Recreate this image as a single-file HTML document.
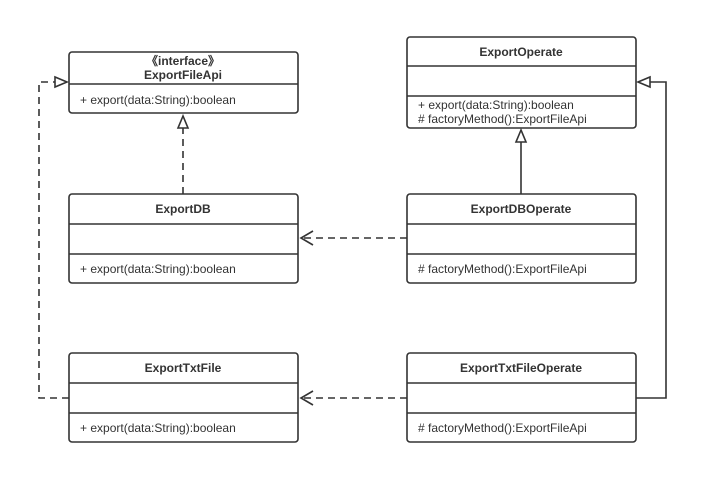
<!DOCTYPE html>
<html><head><style>
body{margin:0;background:#fff;}
svg text{font-family:"Liberation Sans",sans-serif;font-size:12px;fill:#333;}
.b{font-weight:bold;}
</style></head><body>
<svg width="707" height="478" xmlns="http://www.w3.org/2000/svg">
<g fill="#fff" stroke="#333" stroke-width="1.6">
<rect x="69" y="52" width="229" height="61" rx="3"/>
<line x1="69" y1="84" x2="298" y2="84"/>
<rect x="407" y="37" width="229" height="91" rx="3"/>
<line x1="407" y1="66" x2="636" y2="66"/><line x1="407" y1="96" x2="636" y2="96"/>
<rect x="69" y="194" width="229" height="89" rx="3"/>
<line x1="69" y1="224" x2="298" y2="224"/><line x1="69" y1="254" x2="298" y2="254"/>
<rect x="407" y="194" width="229" height="89" rx="3"/>
<line x1="407" y1="224" x2="636" y2="224"/><line x1="407" y1="254" x2="636" y2="254"/>
<rect x="69" y="353" width="229" height="89" rx="3"/>
<line x1="69" y1="383" x2="298" y2="383"/><line x1="69" y1="413" x2="298" y2="413"/>
<rect x="407" y="353" width="229" height="89" rx="3"/>
<line x1="407" y1="383" x2="636" y2="383"/><line x1="407" y1="413" x2="636" y2="413"/>
</g>
<g fill="none" stroke="#333" stroke-width="1.6">
<path d="M183 194V125" stroke-dasharray="7,5"/>
<path d="M521 194V140"/>
<path d="M407 238H302" stroke-dasharray="7,5"/>
<path d="M313 231L301 238L313 245"/>
<path d="M407 398H302" stroke-dasharray="7,5"/>
<path d="M313 391L301 398L313 405"/>
<path d="M69 398H39V82H55" stroke-dasharray="7,5"/>
<path d="M636 398H666V82H650"/>
</g>
<g fill="#fff" stroke="#333" stroke-width="1.6">
<path d="M183 116L178 128L188 128Z"/>
<path d="M521 130L516 142L526 142Z"/>
<path d="M67 82L55 77L55 87Z"/>
<path d="M638 82L650 77L650 87Z"/>
</g>
<text x="183" y="65" text-anchor="middle" class="b">《interface》</text>
<text x="183" y="79" text-anchor="middle" class="b">ExportFileApi</text>
<text x="80" y="104">+ export(data:String):boolean</text>
<text x="521" y="56" text-anchor="middle" class="b">ExportOperate</text>
<text x="418" y="109">+ export(data:String):boolean</text>
<text x="418" y="123"># factoryMethod():ExportFileApi</text>
<text x="183" y="213" text-anchor="middle" class="b">ExportDB</text>
<text x="80" y="273">+ export(data:String):boolean</text>
<text x="521" y="213" text-anchor="middle" class="b">ExportDBOperate</text>
<text x="418" y="273"># factoryMethod():ExportFileApi</text>
<text x="183" y="372" text-anchor="middle" class="b">ExportTxtFile</text>
<text x="80" y="432">+ export(data:String):boolean</text>
<text x="521" y="372" text-anchor="middle" class="b">ExportTxtFileOperate</text>
<text x="418" y="432"># factoryMethod():ExportFileApi</text>
</svg>
</body></html>
